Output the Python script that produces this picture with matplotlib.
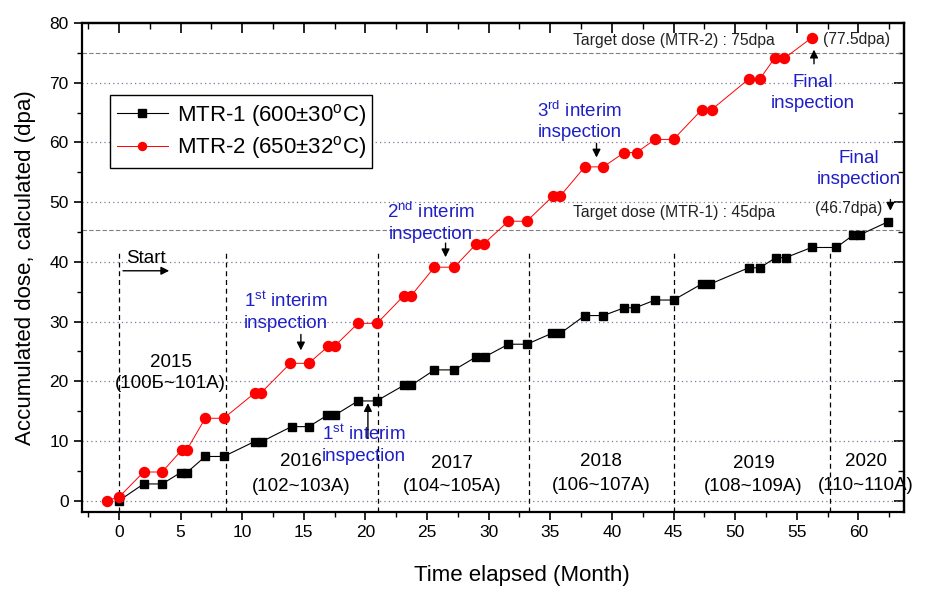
import matplotlib
matplotlib.use("Agg")
import matplotlib.pyplot as plt
from matplotlib.ticker import MultipleLocator

plt.rcParams['font.family'] = ['Liberation Sans', 'DejaVu Sans']
plt.rcParams['mathtext.fontset'] = 'custom'
plt.rcParams['mathtext.rm'] = 'Liberation Sans'
plt.rcParams['mathtext.it'] = 'Liberation Sans:italic'
plt.rcParams['mathtext.bf'] = 'Liberation Sans:bold'

# ---- data ----
mtr1_month = [0, 2.0, 3.5, 5.0, 5.5, 7.0, 8.5, 11.0, 11.6, 14.0, 15.4, 16.9, 17.5,
              19.4, 20.9, 23.1, 23.7, 25.6, 27.2, 29.0, 29.7, 31.6, 33.1, 35.1, 35.8,
              37.8, 39.3, 41.0, 41.9, 43.5, 45.0, 47.3, 48.0, 51.1, 52.0, 53.3, 54.1,
              56.2, 58.2, 59.6, 60.1, 62.4]
mtr1_dose = [0, 2.8, 2.8, 4.7, 4.7, 7.4, 7.4, 9.9, 9.9, 12.4, 12.4, 14.3, 14.3,
             16.7, 16.7, 19.3, 19.3, 21.9, 21.9, 24.1, 24.1, 26.2, 26.2, 28.0, 28.0,
             31.0, 31.0, 32.3, 32.3, 33.6, 33.6, 36.3, 36.3, 39.0, 39.0, 40.7, 40.7,
             42.4, 42.4, 44.5, 44.5, 46.7]

mtr2_month = [-1.0, 0, 2.0, 3.5, 5.1, 5.5, 7.0, 8.5, 11.0, 11.5, 13.9, 15.4, 17.0, 17.5,
              19.4, 20.95, 23.1, 23.7, 25.6, 27.2, 29.0, 29.6, 31.6, 33.1, 35.2, 35.8,
              37.8, 39.3, 41.0, 42.0, 43.5, 45.0, 47.3, 48.1, 51.1, 52.0, 53.2, 54.0, 56.2]
mtr2_dose = [0, 0.6, 4.8, 4.8, 8.5, 8.5, 13.8, 13.8, 18.0, 18.0, 23.0, 23.0, 25.9, 25.9,
             29.7, 29.7, 34.3, 34.3, 39.1, 39.1, 43.0, 43.0, 46.8, 46.8, 51.0, 51.0,
             55.9, 55.9, 58.3, 58.3, 60.5, 60.5, 65.5, 65.5, 70.6, 70.6, 74.1, 74.1, 77.5]

year_bounds = [0, 8.65, 21.05, 33.3, 45.05, 57.7]
year_labels = ['2015', '2016', '2017', '2018', '2019', '2020']
cycle_labels = ['(100Б~101A)', '(102~103A)', '(104~105A)', '(106~107A)', '(108~109A)', '(110~110A)']
target_mtr1 = 45.4
target_mtr2 = 75.0

series_labels = [r'MTR-1 (600$\pm$30$^{\rm o}$C)', r'MTR-2 (650$\pm$32$^{\rm o}$C)']

BLUE = '#1f1fc8'

fig = plt.figure(figsize=(9.3, 6.03), dpi=100)
ax = fig.add_axes([0.0882, 0.1509, 0.8838, 0.811])

ax.set_xlim(-3, 63.7)
ax.set_ylim(-1.9, 80)

# grid lines
for yv in range(0, 80, 10):
    ax.axhline(yv, color='#7a7a9a', lw=0.9, ls=(0, (1, 2.5)), zorder=1)
ax.axhline(target_mtr2, color='#808080', lw=0.8, ls=(0, (4, 2)), zorder=1)
ax.axhline(target_mtr1, color='#808080', lw=0.8, ls=(0, (4, 2)), zorder=1)

for xb in year_bounds:
    ax.plot([xb, xb], [-1.9, 42], color='black', lw=0.9, ls=(0, (4, 3)), zorder=1)

ax.plot(mtr1_month, mtr1_dose, color='black', lw=0.8, marker='s', ms=6.4,
        mfc='black', mec='black', label=series_labels[0], zorder=3)
ax.plot(mtr2_month, mtr2_dose, color='red', lw=0.7, marker='o', ms=7.2,
        mfc='red', mec='red', label=series_labels[1], zorder=3)

# ticks
ax.xaxis.set_major_locator(MultipleLocator(5))
ax.xaxis.set_minor_locator(MultipleLocator(2.5))
ax.yaxis.set_major_locator(MultipleLocator(10))
ax.yaxis.set_minor_locator(MultipleLocator(5))
ax.tick_params(which='major', direction='out', length=6, width=1.2, labelsize=12.5)
ax.tick_params(which='minor', direction='out', length=3.5, width=1.0)
for s in ax.spines.values():
    s.set_linewidth(1.6)

secx = ax.secondary_xaxis('top')
secx.xaxis.set_major_locator(MultipleLocator(5))
secx.xaxis.set_minor_locator(MultipleLocator(2.5))
secx.tick_params(which='major', direction='in', length=7, width=1.2, labeltop=False)
secx.tick_params(which='minor', direction='in', length=4, width=1.0)
secx.spines['top'].set_linewidth(1.6)
secy = ax.secondary_yaxis('right')
secy.yaxis.set_major_locator(MultipleLocator(10))
secy.yaxis.set_minor_locator(MultipleLocator(5))
secy.tick_params(which='major', direction='in', length=7, width=1.2, labelright=False)
secy.tick_params(which='minor', direction='in', length=4, width=1.0)
secy.spines['right'].set_linewidth(1.6)

ax.set_xlabel('Time elapsed (Month)', fontsize=16)
ax.xaxis.set_label_coords(0.535, -0.108)
ax.set_ylabel('Accumulated dose, calculated (dpa)', fontsize=16, labelpad=10)

leg = ax.legend(loc='upper left', bbox_to_anchor=(0.034, 0.853), borderaxespad=0,
                fontsize=16, frameon=True, fancybox=False, framealpha=1,
                edgecolor='black', handlelength=2.3, labelspacing=0.25,
                handletextpad=0.4, borderpad=0.3, markerscale=0.8)
leg.get_frame().set_linewidth(1.0)

# year / cycle labels
year_x = [4.2, 14.8, 27.0, 39.1, 51.5, 60.6]
year_y = [23.2, 6.5, 6.3, 6.5, 6.3, 6.5]
cyc_y = [19.6, 2.4, 2.4, 2.6, 2.4, 2.6]
for i in range(len(year_labels)):
    ax.text(year_x[i], year_y[i], year_labels[i], ha='center', va='center', fontsize=13.5)
    ax.text(year_x[i], cyc_y[i], cycle_labels[i], ha='center', va='center', fontsize=13.5)

# start
ax.text(0.6, 40.6, 'Start', ha='left', va='center', fontsize=13.5)
ax.annotate('', xy=(4.3, 38.5), xytext=(0.1, 38.5),
            arrowprops=dict(arrowstyle='-|>', color='black', lw=1.0, mutation_scale=12))

# target dose labels
TXT = '#222222'
ax.text(36.85, 77.1, 'Target dose (MTR-2) : 75dpa', ha='left', va='center', fontsize=11.3, color=TXT)
ax.text(36.85, 48.2, 'Target dose (MTR-1) : 45dpa', ha='left', va='center', fontsize=11.3, color=TXT)
ax.text(57.1, 77.25, '(77.5dpa)', ha='left', va='center', fontsize=11.3, color=TXT)
ax.text(56.45, 48.9, '(46.7dpa)', ha='left', va='center', fontsize=11.3, color=TXT)

# inspection annotations
def insp(x, y, txt):
    ax.text(x, y, txt, ha='center', va='center', fontsize=13.5, color=BLUE, linespacing=1.3)

def arrow(x, y0, y1):
    ax.annotate('', xy=(x, y1), xytext=(x, y0),
                arrowprops=dict(arrowstyle='-|>', color='black', lw=1.0, mutation_scale=12))

insp(13.5, 31.6, '1$^{\\rm st}$ interim\ninspection')
arrow(14.76, 28.3, 24.7)
insp(19.9, 9.4, '1$^{\\rm st}$ interim\ninspection')
arrow(20.2, 10.0, 16.8)
insp(25.3, 46.6, '2$^{\\rm nd}$ interim\ninspection')
arrow(26.5, 43.6, 40.3)
insp(37.4, 63.6, '3$^{\\rm rd}$ interim\ninspection')
arrow(38.75, 60.3, 57.0)
insp(56.3, 68.3, 'Final\ninspection')
arrow(56.4, 72.7, 76.0)
insp(60.0, 55.5, 'Final\ninspection')
arrow(62.6, 50.9, 48.1)

fig.savefig('out.png', dpi=100)
